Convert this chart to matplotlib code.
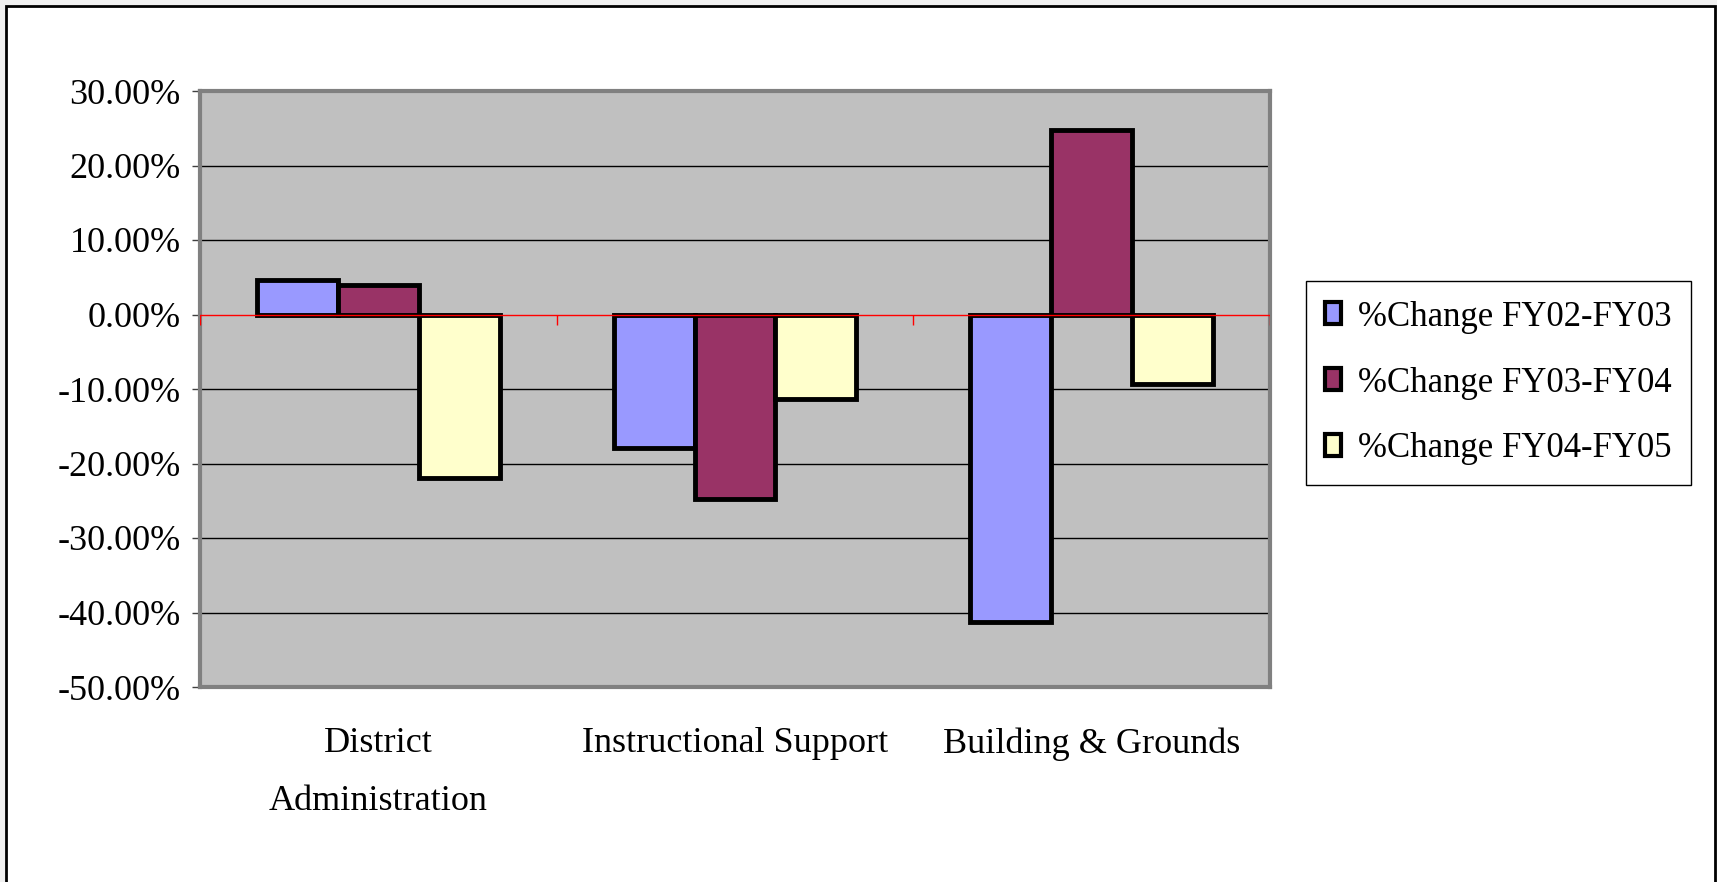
import matplotlib
matplotlib.use("Agg")
import matplotlib.pyplot as plt
from matplotlib.patches import Patch, Rectangle
import numpy as np

# data
categories = ["District\nAdministration", "Instructional Support", "Building & Grounds"]
series_names = ["%Change FY02-FY03", "%Change FY03-FY04", "%Change FY04-FY05"]
fy02_fy03 = [4.6, -17.9, -41.3]
fy03_fy04 = [3.9, -24.7, 24.7]
fy04_fy05 = [-22.0, -11.3, -9.3]
yticks = [30, 20, 10, 0, -10, -20, -30, -40, -50]

colors = ["#9999ff", "#993366", "#ffffcc"]

plt.rcParams['font.family'] = ['Liberation Serif', 'DejaVu Serif']

fig = plt.figure(figsize=(17.17, 8.82), dpi=100, facecolor="#f0f0f0")
# white chart area with thin black border
fig.patches.append(Rectangle((6 / 1717, -0.05), (1715 - 6) / 1717, 1 - 6 / 882 + 0.05,
                             transform=fig.transFigure, facecolor="white",
                             edgecolor="black", linewidth=2, zorder=-10))

ax = fig.add_axes([200 / 1717, 1 - 687 / 882, (1270 - 200) / 1717, (687 - 91) / 882])
ax.set_facecolor("#c0c0c0")

x = np.arange(len(categories))
w = 0.227
allvals = [fy02_fy03, fy03_fy04, fy04_fy05]
for i, vals in enumerate(allvals):
    ax.bar(x + (i - 1) * w, vals, w, color=colors[i], edgecolor="black",
           linewidth=3.5, zorder=3)

ax.set_xlim(-0.5, 2.5)
ax.set_ylim(-50, 30)
ax.set_yticks(yticks)
ax.set_yticklabels(["%.2f%%" % v for v in yticks], fontsize=26)
for v in yticks:
    if v != 0:
        ax.axhline(v, color="black", linewidth=1, zorder=1)

ax.axhline(0, color="red", linewidth=1, zorder=4)
ax.vlines([-0.5, 0.5, 1.5, 2.5], -1.4, 0, color="red", linewidth=1, zorder=4)

ax.set_xticks(x)
ax.set_xticklabels(categories, fontsize=26, linespacing=2.0)
ax.tick_params(axis="x", length=0, pad=29)
ax.tick_params(axis="y", length=6, width=1, color="#404040", pad=8)

for s in ax.spines.values():
    s.set_color("#808080")
    s.set_linewidth(3)

handles = [Patch(facecolor=c, edgecolor="black", linewidth=3) for c in colors]
leg = fig.legend(handles, series_names, loc="center left",
                 bbox_to_anchor=(1306 / 1717, 1 - 383 / 882), fontsize=25,
                 frameon=True, fancybox=False, edgecolor="black", framealpha=1,
                 handlelength=0.45, handleheight=0.6, handletextpad=0.5,
                 labelspacing=0.95, borderpad=0.55, borderaxespad=0)
leg.get_frame().set_linewidth(1)

fig.savefig("out.png", dpi=100, facecolor=fig.get_facecolor())
